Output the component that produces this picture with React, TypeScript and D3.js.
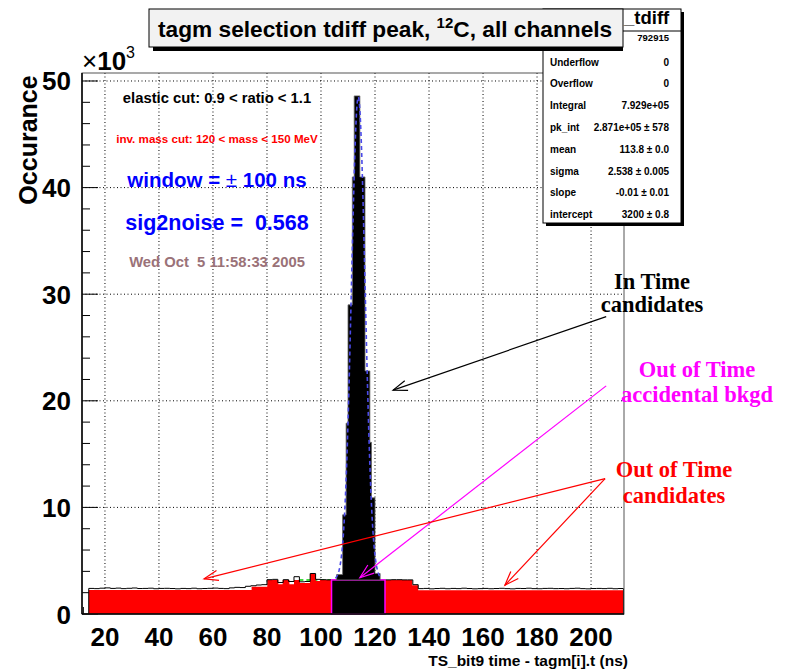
import React, { useEffect, useRef } from 'react';
import * as d3 from 'd3';

// x ticks (ns) and y ticks (x10^3 counts)
const xTickValues = [20, 40, 60, 80, 100, 120, 140, 160, 180, 200];
const yTickValues = [0, 10, 20, 30, 40, 50];

// total histogram outline, 2 ns bins starting at 14 ns (counts x10^3)
const outlineStart = 14;
const outlineWidth = 2;
const outlineCounts = [
  2.40, 2.38, 2.42, 2.45, 2.40, 2.43, 2.38, 2.41, 2.44, 2.39,
  2.40, 2.42, 2.37, 2.40, 2.41, 2.39, 2.36, 2.40, 2.38, 2.42,
  2.37, 2.39, 2.41, 2.43, 2.40, 2.38, 2.45, 2.50, 2.48, 2.60,
  2.65, 2.72, 2.75, 3.22, 3.25, 2.95, 3.22, 3.05, 3.50, 3.02,
  3.05, 3.80, 3.25, 3.22, 3.20,
  3.2, 3.2, 3.2, 3.2, 3.2, 3.2, 3.2, 3.2, 3.2, 3.2,
  3.20, 3.22, 3.22, 3.20, 3.20, 2.75,
  2.38, 2.40, 2.36, 2.39, 2.41, 2.37, 2.40, 2.38, 2.42, 2.39,
  2.36, 2.38, 2.40, 2.37, 2.39, 2.41, 2.38, 2.36, 2.40, 2.39,
  2.42, 2.38, 2.37, 2.40, 2.41, 2.38, 2.39, 2.37, 2.40, 2.42,
  2.38, 2.36, 2.39, 2.40, 2.38, 2.41, 2.37, 2.39,
];

// out of time candidates (red), variable bins
const redEdges = [14, 74.3, 80.1, 84.2, 85.8, 88.3, 90, 92.2, 95.9, 98.1, 99.6, 103.9, 123.7, 133.8, 136, 212];
const redCounts = [2.25, 2.55, 3.2, 2.8, 3.2, 2.8, 3.2, 2.9, 3.75, 3.1, 3.2, 0, 3.2, 2.7, 2.22];

// accidental background under the peak window
const bkgdWindow = [103.9, 123.7];
const bkgdLevel = 3.2;

// in time peak
const peakEdges = [105.8, 108.0, 109.3, 110.0, 111.6, 112.3, 114.4, 116.3, 118.1, 118.7, 120.0, 121.9];
const peakCounts = [3.7, 9.3, 17.9, 29.0, 41.0, 48.6, 41.0, 22.8, 16.1, 10.9, 3.8];

// gaussian + line fit
const fitAmp = 45.3;
const fitMean = 113.8;
const fitSigma = 2.538;
const fitIntercept = 3.2;
const fitSlope = -0.00001;
const fitRange = [105.3, 122.3];
const bkgdFitRange = [92, 104];

const statsLabels = ['Underflow', 'Overflow', 'Integral', 'pk_int', 'mean', 'sigma', 'slope', 'intercept'];
const statsValues = ['0', '0', '7.929e+05', '2.871e+05 \u00b1 578', '113.8 \u00b1 0.0', '2.538 \u00b1 0.005', '-0.01 \u00b1 0.01', '3200 \u00b1 0.8'];

// arrows: [x0, y0, x1, y1] in data units (tail -> head)
const arrows = [
  { color: '#000000', p: [205.6, 27.9, 126.7, 21.0] },
  { color: '#ff00ff', p: [205.6, 21.4, 114.4, 3.4] },
  { color: '#ff0000', p: [205.2, 12.7, 56.7, 3.3] },
  { color: '#ff0000', p: [205.2, 12.7, 168.1, 2.7] },
];

const SANS = '"Liberation Sans", Arial, Helvetica, sans-serif';
const SERIF = '"Liberation Serif", "Times New Roman", serif';

const TagmChart = () => {
  const ref = useRef<SVGSVGElement>(null);

  useEffect(() => {
    const svg = d3.select(ref.current);
    svg.selectAll('*').remove();

    const left = 82, right = 624, top = 73, bottom = 614;
    const x = d3.scaleLinear().domain([11.5, 212.2]).range([left, right]);
    const y = d3.scaleLinear().domain([0, 50.75]).range([bottom, top]);

    svg.append('rect').attr('width', 787).attr('height', 671).attr('fill', '#fff');

    // grid
    const grid = svg.append('g').attr('stroke', '#000').attr('stroke-width', 1).attr('stroke-dasharray', '1,2.5');
    xTickValues.forEach(v => {
      grid.append('line').attr('x1', x(v)).attr('x2', x(v)).attr('y1', top).attr('y2', bottom);
    });
    yTickValues.filter(v => v > 0).forEach(v => {
      grid.append('line').attr('x1', left).attr('x2', right).attr('y1', y(v)).attr('y2', y(v));
    });

    // ticks
    const ticks = svg.append('g').attr('stroke', '#000').attr('stroke-width', 1);
    d3.range(0, 51, 2).forEach(v => {
      const len = v % 10 === 0 ? 16 : 8;
      ticks.append('line').attr('x1', left).attr('x2', left + len).attr('y1', y(v)).attr('y2', y(v));
    });
    d3.range(12, 213, 4).forEach(v => {
      const len = v % 20 === 0 ? 14 : 7;
      ticks.append('line').attr('x1', x(v)).attr('x2', x(v)).attr('y1', bottom).attr('y2', bottom - len);
    });

    // background fit line (green)
    const bl = d3.line<number>().x(d => x(d)).y(d => y(fitIntercept + fitSlope * d));
    svg.append('path').attr('d', bl(bkgdFitRange)).attr('fill', 'none')
      .attr('stroke', '#00cc00').attr('stroke-width', 1.5).attr('stroke-dasharray', '4,3');

    // red filled histogram
    const stepArea = (edges: number[], counts: number[]) => {
      let s = '';
      counts.forEach((c, i) => {
        if (c <= 0) return;
        s += `M${x(edges[i])},${y(0)}V${y(c)}H${x(edges[i + 1])}V${y(0)}Z`;
      });
      return s;
    };
    svg.append('path').attr('d', stepArea(redEdges, redCounts)).attr('fill', '#ff0000');

    // total outline
    let od = `M${x(outlineStart)},${y(0)}`;
    outlineCounts.forEach((c, i) => {
      od += `V${y(c)}H${x(outlineStart + (i + 1) * outlineWidth)}`;
    });
    od += `V${y(0)}`;
    svg.append('path').attr('d', od).attr('fill', 'none').attr('stroke', '#000').attr('stroke-width', 1);

    // accidental background box
    svg.append('rect')
      .attr('x', x(bkgdWindow[0])).attr('y', y(bkgdLevel))
      .attr('width', x(bkgdWindow[1]) - x(bkgdWindow[0]))
      .attr('height', y(0) - y(bkgdLevel))
      .attr('fill', '#000').attr('stroke', '#ff00ff').attr('stroke-width', 1.5);

    // peak
    let pd = `M${x(peakEdges[0])},${y(bkgdLevel)}`;
    peakCounts.forEach((c, i) => {
      pd += `V${y(c)}H${x(peakEdges[i + 1])}`;
    });
    pd += `V${y(bkgdLevel)}Z`;
    svg.append('path').attr('d', pd).attr('fill', '#000').attr('stroke', '#666').attr('stroke-width', 0.8);

    // gaussian fit
    const fx = d3.range(fitRange[0], fitRange[1], 0.1);
    const fl = d3.line<number>()
      .x(d => x(d))
      .y(d => y(fitAmp * Math.exp(-((d - fitMean) ** 2) / (2 * fitSigma * fitSigma)) + fitIntercept + fitSlope * d));
    svg.append('path').attr('d', fl(fx)).attr('fill', 'none')
      .attr('stroke', '#4a4ae8').attr('stroke-width', 1.6).attr('stroke-dasharray', '4,3');

    // frame
    svg.append('rect').attr('x', left).attr('y', top).attr('width', right - left).attr('height', bottom - top)
      .attr('fill', 'none').attr('stroke', '#555').attr('stroke-width', 1);
    svg.append('line').attr('x1', left).attr('x2', left).attr('y1', top).attr('y2', bottom).attr('stroke', '#000').attr('stroke-width', 1.5);
    svg.append('line').attr('x1', left).attr('x2', right).attr('y1', bottom).attr('y2', bottom).attr('stroke', '#000').attr('stroke-width', 1.5);

    // tick labels
    svg.append('g').selectAll('text').data(yTickValues).join('text')
      .attr('x', 71).attr('y', d => y(d) + 9.5)
      .attr('text-anchor', 'end').attr('font-family', SANS).attr('font-weight', 'bold').attr('font-size', 26)
      .text(d => d);
    svg.append('g').selectAll('text').data(xTickValues).join('text')
      .attr('x', d => x(d)).attr('y', 646)
      .attr('text-anchor', 'middle').attr('font-family', SANS).attr('font-weight', 'bold').attr('font-size', 26)
      .text(d => d);

    // exponent
    const ex = svg.append('text').attr('x', 82).attr('y', 70).attr('font-family', SANS).attr('font-size', 26);
    ex.append('tspan').text('\u00d7');
    ex.append('tspan').attr('font-weight', 'bold').text('10');
    ex.append('tspan').attr('font-size', 16).attr('dy', -12).text('3');

    // axis titles
    svg.append('text').attr('transform', 'translate(37,140) rotate(-90)')
      .attr('text-anchor', 'middle').attr('font-family', SANS).attr('font-weight', 'bold').attr('font-size', 25)
      .text('Occurance');
    svg.append('text').attr('x', 628).attr('y', 666).attr('text-anchor', 'end')
      .attr('font-family', SANS).attr('font-weight', 'bold').attr('font-size', 15.5)
      .text('TS_bit9 time - tagm[i].t (ns)');

    // info texts
    const info = [
      { t: 'elastic cut: 0.9 < ratio < 1.1', c: '#000', s: 14.8, yy: 103 },
      { t: 'inv. mass cut: 120 < mass < 150 MeV', c: '#ff0000', s: 11.6, yy: 143 },
      { t: 'sig2noise =  0.568', c: '#0000ff', s: 21.5, yy: 230 },
      { t: 'Wed Oct  5 11:58:33 2005', c: '#9a7278', s: 14.8, yy: 267 },
    ];
    info.forEach(d => {
      svg.append('text').attr('x', 217).attr('y', d.yy).attr('text-anchor', 'middle')
        .attr('font-family', SANS).attr('font-weight', 'bold').attr('font-size', d.s)
        .attr('fill', d.c).style('white-space', 'pre').text(d.t);
    });
    const win = svg.append('text').attr('x', 217).attr('y', 187).attr('text-anchor', 'middle')
      .attr('font-family', SANS).attr('font-weight', 'bold').attr('font-size', 20.5).attr('fill', '#0000ff');
    win.append('tspan').text('window = ');
    win.append('tspan').attr('font-weight', 'normal').text('\u00b1');
    win.append('tspan').text(' 100 ns');

    // arrows
    arrows.forEach(a => {
      const [x0, y0, x1, y1] = [x(a.p[0]), y(a.p[1]), x(a.p[2]), y(a.p[3])];
      const ang = Math.atan2(y1 - y0, x1 - x0);
      const hl = 15, ha = 0.35;
      const g = svg.append('g').attr('stroke', a.color).attr('stroke-width', 1.2).attr('fill', 'none');
      g.append('line').attr('x1', x0).attr('y1', y0).attr('x2', x1).attr('y2', y1);
      g.append('path').attr('d',
        `M${x1 - hl * Math.cos(ang - ha)},${y1 - hl * Math.sin(ang - ha)}L${x1},${y1}L${x1 - hl * Math.cos(ang + ha)},${y1 - hl * Math.sin(ang + ha)}`);
    });

    // annotation labels
    const notes = [
      { lines: ['In Time', 'candidates'], c: '#000', cx: 652, yy: [289, 312] },
      { lines: ['Out of Time', 'accidental bkgd'], c: '#ff00ff', cx: 697, yy: [377, 402] },
      { lines: ['Out of Time', 'candidates'], c: '#ff0000', cx: 674, yy: [477, 503] },
    ];
    notes.forEach(n => {
      n.lines.forEach((l, i) => {
        svg.append('text').attr('x', n.cx).attr('y', n.yy[i]).attr('text-anchor', 'middle')
          .attr('font-family', SERIF).attr('font-weight', 'bold').attr('font-size', 22.5)
          .attr('fill', n.c).text(l);
      });
    });

    // stats box
    const sb = { x0: 543, y0: 9, x1: 681, y1: 223 };
    svg.append('rect').attr('x', sb.x0 + 3).attr('y', sb.y0 + 3).attr('width', sb.x1 - sb.x0).attr('height', sb.y1 - sb.y0).attr('fill', '#000');
    svg.append('rect').attr('x', sb.x0).attr('y', sb.y0).attr('width', sb.x1 - sb.x0).attr('height', sb.y1 - sb.y0)
      .attr('fill', '#fff').attr('stroke', '#000').attr('stroke-width', 1);
    svg.append('line').attr('x1', sb.x0).attr('x2', sb.x1).attr('y1', 31).attr('y2', 31).attr('stroke', '#000');
    svg.append('text').attr('x', 624).attr('y', 24).attr('font-family', SANS).attr('font-weight', 'bold').attr('font-size', 18.5).text('_tdiff');
    svg.append('text').attr('x', 669).attr('y', 41).attr('text-anchor', 'end').attr('font-family', SANS).attr('font-weight', 'bold').attr('font-size', 9.5).text('792915');
    statsLabels.forEach((l, i) => {
      const yy = 65.5 + i * 21.8;
      svg.append('text').attr('x', 550).attr('y', yy).attr('font-family', SANS).attr('font-weight', 'bold').attr('font-size', 10).text(l);
      svg.append('text').attr('x', 669).attr('y', yy).attr('text-anchor', 'end').attr('font-family', SANS).attr('font-weight', 'bold').attr('font-size', 10).text(statsValues[i]);
    });

    // title box
    svg.append('rect').attr('x', 153).attr('y', 13).attr('width', 470).attr('height', 38).attr('fill', '#000');
    svg.append('rect').attr('x', 149).attr('y', 9).attr('width', 474).attr('height', 38)
      .attr('fill', '#f2f2f2').attr('stroke', '#000').attr('stroke-width', 1);
    const tt = svg.append('text').attr('x', 158).attr('y', 37).attr('font-family', SANS).attr('font-weight', 'bold').attr('font-size', 22.7);
    tt.append('tspan').text('tagm selection tdiff peak, ');
    tt.append('tspan').attr('font-size', 15).attr('dy', -9).text('12');
    tt.append('tspan').attr('dy', 9).text('C, all channels');
  }, []);

  return <svg ref={ref} width={787} height={671} style={{ position: 'absolute', left: 0, top: 0 }} />;
};

export default function App() {
  return <TagmChart />;
}
